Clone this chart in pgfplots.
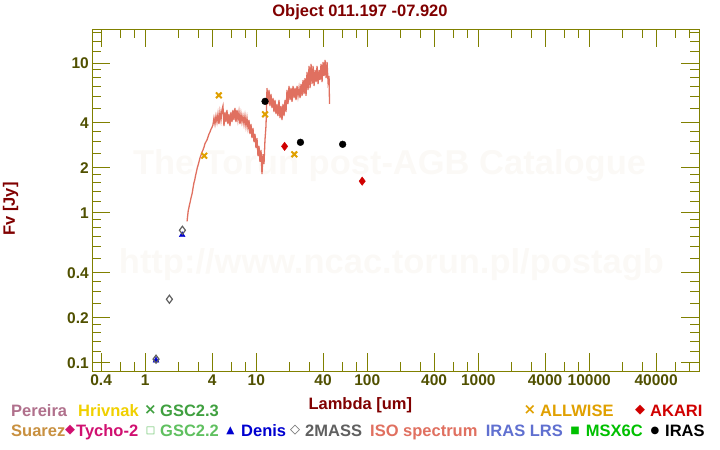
\documentclass[border=0pt]{standalone}
\usepackage{fontspec}
\setmainfont{Liberation Sans}
\newfontfamily\symfont{DejaVu Sans}
\usepackage{pgfplots}
\pgfplotsset{compat=1.18}
\definecolor{axcol}{RGB}{128,128,0}
\definecolor{tickcol}{RGB}{80,80,0}
\definecolor{titcol}{RGB}{128,0,0}
\definecolor{wmcol}{RGB}{251,249,246}
\definecolor{isocol}{RGB}{224,112,96}
\definecolor{wisecol}{RGB}{224,160,0}
\definecolor{akaricol}{RGB}{208,0,0}
\definecolor{deniscol}{RGB}{0,0,208}
\definecolor{twomass}{RGB}{96,96,96}
\definecolor{pereira}{RGB}{176,112,140}
\definecolor{hrivnak}{RGB}{240,208,0}
\definecolor{gsctri}{RGB}{64,160,64}
\definecolor{suarez}{RGB}{200,144,64}
\definecolor{tycho}{RGB}{208,16,112}
\definecolor{gsctwo}{RGB}{96,192,96}
\definecolor{iraslrs}{RGB}{96,112,208}
\definecolor{msx}{RGB}{0,192,0}
\newcommand{\lf}{\fontsize{16.5bp}{19bp}\selectfont\bfseries}
\begin{document}
\begin{tikzpicture}
\useasboundingbox (0,0) rectangle (720bp,450bp);
% watermark
\node[text=wmcol, anchor=base, inner sep=0, font=\fontsize{34.5bp}{40bp}\selectfont\bfseries] at (389.5bp,275bp) {The Torun post-AGB Catalogue};
\node[text=wmcol, anchor=base, inner sep=0, font=\fontsize{34.5bp}{40bp}\selectfont\bfseries] at (391.4bp,176.7bp) {http://www.ncac.torun.pl/postagb};
\begin{axis}[
  at={(92.3bp,79bp)}, anchor=south west,
  scale only axis, width=607bp, height=341.7bp,
  xmode=log, ymode=log,
  xmin=0.3333, xmax=98000, ymin=0.0884, ymax=16.78,
  xtick={0.4,1,4,10,40,100,400,1000,4000,10000,40000},
  xticklabels={0.4,1,4,10,40,100,400,1000,4000,10000,40000},
  minor xtick={0.6,0.8,2,3,6,8,20,30,60,80,200,300,600,800,2000,3000,6000,8000,20000,30000,60000,80000},
  ytick={0.1,0.2,0.4,1,2,4,10},
  yticklabels={0.1,0.2,0.4,1,2,4,10},
  minor ytick={0.12,0.14,0.16,0.18,0.25,0.3,0.35,0.5,0.6,0.7,0.8,0.9,1.2,1.4,1.6,1.8,2.5,3,3.5,5,6,7,8,9,12,14,16},
  major tick length=18bp, minor tick length=9bp,
  tick style={draw=axcol, line width=1bp},
  axis line style={draw=axcol, line width=1bp},
  tick label style={font=\fontsize{15.5bp}{18bp}\selectfont\bfseries, text=tickcol},
  /pgf/number format/assume math mode=true,
]
\addplot[isocol, line width=1.3bp] coordinates {
(2.38,0.88) (2.41,0.96) (2.44,1.04) (2.47,1.08) (2.50,1.13) (2.53,1.17) (2.57,1.24) (2.61,1.30) (2.65,1.36) (2.69,1.46) (2.74,1.58) (2.79,1.66) (2.84,1.78) (2.89,1.88) (2.94,2.00) (2.99,2.08) (3.05,2.20) (3.11,2.33) (3.17,2.42) (3.24,2.54) (3.31,2.63) (3.38,2.74) (3.45,2.90) (3.52,2.98) (3.60,3.07) (3.68,3.22) (3.75,3.36) (3.83,3.47) (3.91,3.62) (3.99,3.72) (4.07,3.86)
(4.158,4.30) (4.246,3.92) (4.335,4.43) (4.425,4.04) (4.518,4.57) (4.613,3.92) (4.710,4.71) (4.809,4.17) (4.909,4.86) (5.012,5.17) (5.117,3.80) (5.225,4.71) (5.334,4.04) (5.446,4.86) (5.560,3.92) (5.677,4.57) (5.796,3.80) (5.917,4.71) (6.041,4.04) (6.168,4.86) (6.297,4.17) (6.429,5.01) (6.564,4.04) (6.702,4.86) (6.842,4.17) (6.986,4.71) (7.132,3.92) (7.282,4.57) (7.434,4.04) (7.590,4.43) (7.749,3.92) (7.912,4.43) (8.078,3.80) (8.247,4.30) (8.420,3.69) (8.597,4.17) (8.777,3.36) (8.961,3.92) (9.149,3.16) (9.341,3.69) (9.537,2.97) (9.737,3.36) (9.941,2.71) (10.15,3.16) (10.36,2.40) (10.58,2.80) (10.80,2.19) (11.03,2.63) (11.26,1.82) (11.50,2.47) (11.74,2.12) (11.98,3.07) (12.23,3.80) (12.36,4.86)
(12.49,6.81) (12.75,5.33) (13.02,6.61) (13.29,5.17) (13.57,6.21) (13.86,5.01) (14.15,5.84) (14.44,4.71) (14.75,5.67) (15.06,4.57) (15.37,5.33) (15.69,4.43) (16.02,5.67) (16.36,4.30) (16.70,5.17) (17.05,4.17) (17.41,5.33) (17.78,4.43) (18.15,5.67) (18.53,4.71) (18.92,6.61) (19.32,5.33) (19.72,7.03) (20.14,5.67) (20.56,6.81) (20.99,5.50) (21.43,7.03) (21.88,5.84) (22.34,6.81) (22.81,5.67) (23.29,7.03) (23.78,6.03) (24.28,6.81) (24.79,5.84) (25.31,7.24) (25.84,6.03) (26.38,7.70) (26.93,6.21) (27.50,7.94) (28.07,6.03) (28.66,8.71) (29.26,6.61) (29.88,9.55) (30.51,6.81) (31.15,9.85) (31.80,7.24) (32.47,9.55) (33.15,7.03) (33.84,8.98) (34.55,7.47) (35.28,9.55) (36.02,7.24) (36.77,8.98) (37.54,7.70) (38.33,9.85) (39.14,7.47) (39.96,10.15) (40.80,8.19) (41.65,10.47) (42.53,7.94) (43.42,10.15) (44.33,7.47) (45.26,8.19) (45.7,5.33)
};
% ALLWISE
\addplot[only marks, mark=x, mark size=4bp, draw=wisecol, line width=2bp] coordinates {(3.4,2.41) (4.6,6.09) (12,4.55) (22,2.46)};
% IRAS
\addplot[only marks, mark=*, mark size=3.4bp, black] coordinates {(12,5.55) (25,2.96) (60,2.87)};
% AKARI
\addplot[only marks, mark=diamond*, mark size=4.2bp, draw=akaricol, fill=akaricol] coordinates {(18,2.78) (90,1.63)};
% Denis
\addplot[only marks, mark=triangle*, mark size=3.4bp, draw=deniscol, fill=deniscol] coordinates {(1.25,0.104) (2.15,0.713)};
% 2MASS
\addplot[only marks, mark=diamond, mark size=4bp, draw=twomass, line width=1.2bp] coordinates {(1.25,0.106) (1.65,0.266) (2.16,0.767)};
\end{axis}
% title and labels
\node[anchor=base, inner sep=0, text=titcol, font=\lf] at (360bp,433bp) {Object 011.197 -07.920};
\node[anchor=base, inner sep=0, text=titcol, font=\lf] at (360.3bp,40bp) {Lambda [um]};
\node[anchor=base, inner sep=0, rotate=90, text=titcol, font=\lf] at (14.8bp,241bp) {Fv [Jy]};
% legend row 1
\tikzset{lg/.style={anchor=base west, inner sep=0, font=\lf}, sy/.style={anchor=center, inner sep=0}}
\node[lg, text=pereira] at (11bp,34bp) {Pereira};
\node[lg, text=hrivnak] at (78bp,34bp) {Hrivnak};
\node[sy, text=gsctri, font=\fontsize{15bp}{17bp}\symfont\bfseries] at (150.5bp,40bp) {×};
\node[lg, text=gsctri] at (160bp,34bp) {GSC2.3};
\node[sy, text=wisecol, font=\fontsize{15bp}{17bp}\symfont\bfseries] at (530bp,40bp) {×};
\node[lg, text=wisecol] at (540bp,34bp) {ALLWISE};
\node[sy, text=akaricol, font=\fontsize{13bp}{15bp}\symfont] at (640bp,40bp) {◆};
\node[lg, text=akaricol] at (650bp,34bp) {AKARI};
% legend row 2
\node[lg, text=suarez] at (11bp,13.5bp) {Suarez};
\node[sy, text=tycho, font=\fontsize{13bp}{15bp}\symfont] at (70bp,19.5bp) {◆};
\node[lg, text=tycho] at (76bp,13.5bp) {Tycho-2};
\node[sy, text=gsctwo, font=\fontsize{10bp}{12bp}\symfont\bfseries] at (150.5bp,19.5bp) {□};
\node[lg, text=gsctwo] at (160bp,13.5bp) {GSC2.2};
\node[sy, text=deniscol, font=\fontsize{10.5bp}{12bp}\symfont] at (230.5bp,19.5bp) {▲};
\node[lg, text=deniscol] at (241bp,13.5bp) {Denis};
\node[sy, text=twomass, font=\fontsize{13bp}{15bp}\symfont\bfseries] at (295bp,19.5bp) {◇};
\node[lg, text=twomass] at (305bp,13.5bp) {2MASS};
\node[lg, text=isocol] at (370bp,13.5bp) {ISO spectrum};
\node[lg, text=iraslrs] at (485.7bp,13.5bp) {IRAS LRS};
\node[sy, text=msx, font=\fontsize{10bp}{12bp}\symfont] at (575bp,19.5bp) {■};
\node[lg, text=msx] at (585.7bp,13.5bp) {MSX6C};
\node[sy, text=black, font=\fontsize{10bp}{12bp}\symfont] at (655bp,19.5bp) {●};
\node[lg, text=black] at (665bp,13.5bp) {IRAS};
\end{tikzpicture}
\end{document}
